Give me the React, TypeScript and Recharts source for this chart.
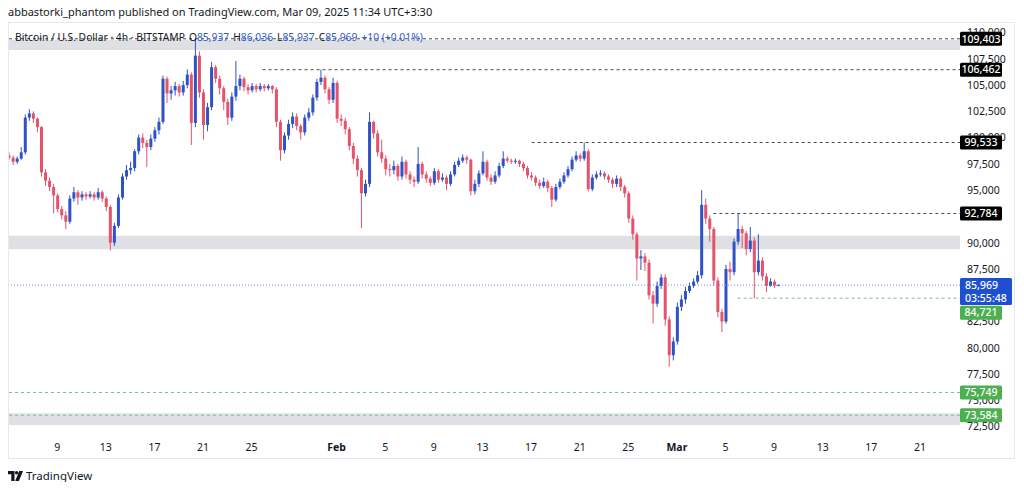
import React from "react";
import { ComposedChart, Bar, XAxis, YAxis, ReferenceLine, ReferenceArea, ReferenceDot } from "recharts";

// BTCUSD, Bitstamp — candles every 8h starting Jan 5 00:00 (days counted from Jan 1)
const START_DAY = 4;
const STEP = 1 / 3;
const FIRST_OPEN = 98300;

const closes = [
  98100, 97700, 98000, 98600, 101900, 102300, 101800, 101000, 96700, 95900,
  95300, 94500, 93200, 92600, 92000, 94200, 94800, 94300, 94600, 94400,
  94600, 94300, 94800, 94200, 93400, 90000, 91600, 94300, 96300, 96900,
  97100, 98700, 100000, 99500, 99100, 99900, 100700, 101500, 105600, 104200,
  104500, 104900, 104300, 105000, 106000, 101400, 107800, 104300, 101200, 102900,
  106700, 105600, 104700, 103400, 101900, 103900, 104900, 105600, 104800, 104500,
  104900, 104600, 104900, 104700, 104900, 104600, 101500, 98800, 100200, 101300,
  102000, 101100, 100500, 101900, 102400, 103800, 105300, 105700, 104600, 103600,
  105200, 101800, 101600, 100800, 99200, 98000, 96900, 94700, 95600, 101500,
  100400, 98600, 98000, 97000, 96900, 97300, 96300, 97700, 96500, 96000,
  95800, 97500, 96500, 96100, 95700, 96800, 96000, 96200, 95600, 96500,
  97400, 97800, 98100, 97900, 94900, 95600, 96600, 97700, 96200, 95800,
  96400, 97300, 98000, 97800, 97700, 97800, 97500, 97100, 96400, 96200,
  95700, 95400, 95800, 95200, 94100, 95300, 95800, 96400, 97000, 97900,
  98300, 98000, 98700, 95100, 96200, 96500, 96600, 96300, 96000, 95600,
  96100, 95300, 94700, 92300, 90800, 88500, 88700, 88100, 85000, 84200,
  85900, 86700, 82700, 79300, 80600, 83900, 84600, 85400, 85900, 86300,
  86900, 93600, 92300, 91300, 86400, 83400, 82500, 87500, 87200, 90100,
  91300, 90900, 89400, 90200, 87200, 88300, 86800, 85900, 86300, 85937,
  85969,
];

const highs = [
  98600, 98300, 98200, 99100, 102200, 102700, 102500, 101900, 101100, 97000,
  96200, 95600, 94700, 93500, 93000, 94500, 95300, 95000, 94900, 94800,
  94900, 94800, 95200, 95000, 94400, 93600, 91900, 94600, 96600, 97400,
  97700, 98900, 100300, 100400, 99800, 100300, 101000, 101900, 105900, 105800,
  104900, 105300, 105100, 105400, 106500, 106200, 109400, 108200, 104600, 103300,
  107200, 106900, 105900, 104900, 103700, 104300, 107300, 106000, 105800, 105100,
  105200, 105100, 105200, 105100, 105100, 105000, 104800, 101700, 100500, 101700,
  102400, 102300, 101300, 102200, 102800, 104100, 105600, 106460, 105900, 104800,
  105700, 105400, 102200, 101900, 101000, 99500, 98300, 97100, 96000, 102400,
  101600, 100700, 99800, 98300, 97500, 97800, 97500, 98200, 97900, 96800,
  96300, 99100, 97700, 96800, 96300, 97100, 97000, 96600, 96400, 96800,
  97700, 98100, 98400, 98300, 98000, 96000, 96900, 98700, 97900, 96500,
  96800, 97600, 98700, 98200, 98000, 98000, 97900, 97700, 97300, 96700,
  96400, 96000, 96200, 96000, 95400, 95600, 96100, 96700, 97300, 98200,
  98700, 98500, 99530, 98900, 96500, 96800, 96900, 96800, 96500, 96200,
  96400, 96300, 95500, 94900, 92600, 91000, 89300, 89000, 88400, 85400,
  86300, 87000, 87000, 83000, 81000, 84300, 85000, 85800, 86200, 86600,
  87300, 95000, 94200, 92600, 91500, 86700, 83700, 87900, 88200, 90400,
  92784, 91600, 91100, 91500, 90500, 90800, 88600, 87100, 86600, 86500,
  86036,
];

const lows = [
  97900, 97400, 97500, 97900, 98400, 101600, 101400, 100500, 96300, 95400,
  94900, 92800, 92900, 92200, 91300, 91800, 93900, 93600, 94000, 94100,
  94200, 94000, 94100, 93900, 93000, 89250, 89700, 91400, 94100, 96000,
  96500, 96800, 98400, 99000, 97200, 98800, 99600, 100300, 101300, 103300,
  103600, 104000, 103900, 104000, 104700, 99300, 101000, 103800, 99800, 100600,
  102600, 105200, 104100, 102600, 101200, 101600, 103500, 104500, 104400, 104100,
  104300, 104300, 104400, 104400, 104500, 104200, 101000, 97800, 98500, 99800,
  100900, 100700, 99800, 100200, 101600, 102100, 103500, 105000, 104200, 103200,
  103300, 101400, 101100, 100300, 98800, 97500, 96300, 91400, 94400, 95300,
  99900, 98200, 97600, 96400, 96300, 96500, 95900, 96000, 96100, 95600,
  95300, 95600, 96100, 95700, 95400, 95500, 95700, 95800, 95000, 95400,
  96300, 97200, 97600, 97500, 94500, 94600, 95300, 96400, 95900, 95500,
  95600, 96200, 97100, 97600, 97500, 97500, 97200, 96800, 96100, 95900,
  95400, 95100, 95200, 94800, 93400, 93900, 95100, 95600, 96200, 96800,
  97700, 97700, 97800, 94900, 94900, 96000, 96300, 96000, 95700, 95200,
  95300, 94900, 94300, 91900, 90300, 86400, 87400, 87300, 84600, 82300,
  83900, 85600, 82100, 78200, 78800, 80300, 83500, 84200, 85200, 85700,
  86100, 86600, 91800, 90100, 85900, 82900, 81500, 82300, 86400, 86900,
  89800, 89500, 88800, 89100, 84721, 86900, 86400, 85300, 85800, 85700,
  85937,
];

// time axis: day index -> label
const xTicks = [8, 12, 16, 20, 24, 31, 35, 39, 43, 47, 51, 55, 59, 63, 67, 71, 75, 79];
const xTickLabels = ["9", "13", "17", "21", "25", "Feb", "5", "9", "13", "17", "21", "25", "Mar", "5", "9", "13", "17", "21"];
// price scale labels (92,500 and 85,000 sit fully under the level tags)
const yTicks = [72500, 75000, 77500, 80000, 82500, 87500, 90000, 95000, 97500, 100000, 102500, 105000, 107500, 110000];

// drawn levels
const levelPrices = [109403, 106462, 99533, 92784, 84721, 75749, 73584];
const levelFromDay = [null, 24.9, 47.05, 62, 64, null, null];
const levelSide = ["res", "res", "res", "res", "sup", "sup", "sup"];

// grey zones
const zoneLow = [108330, 89370, 72660];
const zoneHigh = [109280, 90670, 73780];

const LAST_PRICE = 85969;
const COUNTDOWN = "03:55:48";

const X_MIN = 3.95;
const X_MAX = 82.3;
const Y_MIN = 71800;
const Y_MAX = 111000;

const UP = "#2f52c4";
const DOWN = "#e3536c";
const FONT = "'Noto Sans', 'Open Sans', sans-serif";
const TEXT = "#131722";
const VAL = "#2e5bd0";

const candles = closes.map((c, i) => {
  const o = i === 0 ? FIRST_OPEN : closes[i - 1];
  const hi = Math.max(highs[i], o, c);
  const lo = Math.min(lows[i], o, c);
  return { t: START_DAY + i * STEP, open: o, close: c, high: hi, low: lo, range: [lo, hi] };
});

const fmt = (v: number) => v.toLocaleString("en-US");

const Candle = (props: any) => {
  const { x, y, width, height, payload } = props;
  if (!payload) return null;
  const { open, close, high, low } = payload;
  const top = Math.min(y, y + height);
  const h = Math.abs(height);
  const span = high - low || 1;
  const py = (p: number) => top + ((high - p) / span) * h;
  const color = close >= open ? UP : DOWN;
  const b1 = py(Math.max(open, close));
  const b2 = py(Math.min(open, close));
  const cx = x + width / 2;
  return (
    <g>
      <line x1={cx} x2={cx} y1={top} y2={top + h} stroke={color} strokeWidth={1} />
      <rect x={x} y={b1} width={width} height={Math.max(b2 - b1, 1)} fill={color} />
    </g>
  );
};

const TimeTick = (props: any) => {
  const { x, y, payload } = props;
  const label = xTickLabels[xTicks.indexOf(payload.value)];
  const bold = label === "Feb" || label === "Mar";
  return (
    <text x={x} y={y + 17} textAnchor="middle" fontSize={10.5} fontWeight={bold ? 700 : 400} fill={TEXT} fontFamily={FONT}>
      {label}
    </text>
  );
};

const PriceLabel = ({ cx, cy, value }: any) => (
  <text x={cx + 7} y={cy + 3.8} textAnchor="start" fontSize={10.5} fill={TEXT} fontFamily={FONT}>
    {fmt(value)}
  </text>
);

const Tag = ({ cx, cy, text, bg, shift = 0 }: any) => (
  <g>
    <rect x={cx} y={cy - 7 + shift} width={42} height={14} rx={1.5} fill={bg} />
    <text x={cx + 21} y={cy + 3.8 + shift} textAnchor="middle" fontSize={10.5} fontWeight={500} fill="#fff" fontFamily={FONT}>
      {text}
    </text>
  </g>
);

const LastTag = ({ cx, cy }: any) => (
  <g>
    <rect x={cx} y={cy - 7} width={52} height={27} rx={1.5} fill="#1f4fd1" />
    <text x={cx + 5} y={cy + 3.8} fontSize={10.5} fontWeight={500} fill="#fff" fontFamily={FONT}>
      {fmt(LAST_PRICE)}
    </text>
    <text x={cx + 5} y={cy + 16.5} fontSize={10.5} fontWeight={500} fill="#fff" fontFamily={FONT}>
      {COUNTDOWN}
    </text>
  </g>
);

const Logo = () => (
  <svg width={15} height={10} viewBox="0 0 15 10" style={{ display: "block" }}>
    <path d="M0 0H6.5V10H3.3V3.2H0Z" fill={TEXT} />
    <circle cx={8.6} cy={1.7} r={1.7} fill={TEXT} />
    <path d="M11.2 0H15L10.9 10H7.2Z" fill={TEXT} />
  </svg>
);

export default function App() {
  return (
    <div style={{ position: "relative", width: 1024, height: 490, margin: -8, background: "#fff", overflow: "hidden", fontFamily: FONT, color: TEXT }}>
      <div style={{ position: "absolute", left: 8, top: 4, fontSize: 11, whiteSpace: "nowrap" }}>
        abbastorki_phantom published on TradingView.com, Mar 09, 2025 11:34 UTC+3:30
      </div>

      <div style={{ position: "absolute", left: 8, top: 22 }}>
        <ComposedChart width={1008} height={437} data={candles} margin={{ top: 0, right: 0, bottom: 0, left: 0 }}>
          {zoneLow.map((lo, i) => (
            <ReferenceArea key={"z" + i} y1={lo} y2={zoneHigh[i]} fill="#dfe0e3" fillOpacity={1} stroke="none" />
          ))}
          <XAxis
            dataKey="t"
            type="number"
            domain={[X_MIN, X_MAX]}
            allowDataOverflow
            ticks={xTicks}
            tick={<TimeTick />}
            tickLine={false}
            tickSize={0}
            tickMargin={0}
            axisLine={false}
            height={25}
            interval={0}
          />
          <YAxis
            orientation="right"
            type="number"
            domain={[Y_MIN, Y_MAX]}
            allowDataOverflow
            ticks={yTicks}
            tick={false}
            tickLine={false}
            axisLine={false}
            width={56}
          />
          <Bar dataKey="range" barSize={3} shape={<Candle />} isAnimationActive={false} />
          {levelPrices.map((p, i) => {
            const color = levelSide[i] === "res" ? "#4a4a4a" : "#7cc283";
            const from = levelFromDay[i];
            return from === null ? (
              <ReferenceLine key={"l" + i} y={p} stroke={color} strokeDasharray="3 3" strokeWidth={1} />
            ) : (
              <ReferenceLine
                key={"l" + i}
                segment={[{ x: from, y: p }, { x: X_MAX, y: p }]}
                stroke={color}
                strokeDasharray="3 3"
                strokeWidth={1}
              />
            );
          })}
          <ReferenceLine y={LAST_PRICE} stroke="#6f8fdc" strokeDasharray="1 2" strokeWidth={1} />
          {/* price scale labels, drawn under the tags */}
          {yTicks.map((v) => (
            <ReferenceDot key={"y" + v} x={X_MAX} y={v} ifOverflow="visible" shape={(s: any) => <PriceLabel cx={s.cx} cy={s.cy} value={v} />} />
          ))}
          {levelPrices.map((p, i) => (
            <ReferenceDot
              key={"t" + i}
              x={X_MAX}
              y={p}
              ifOverflow="visible"
              shape={(s: any) => (
                <Tag cx={s.cx} cy={s.cy} text={fmt(p)} bg={levelSide[i] === "res" ? "#000" : "#4caf50"} shift={p === 84721 ? 14.5 : 0} />
              )}
            />
          ))}
          <ReferenceDot x={X_MAX} y={LAST_PRICE} ifOverflow="visible" shape={(s: any) => <LastTag cx={s.cx} cy={s.cy} />} />
        </ComposedChart>
      </div>

      <div style={{ position: "absolute", left: 8, top: 22, width: 1007, height: 437, border: "1px solid #e6e8ee", boxSizing: "border-box", pointerEvents: "none" }} />

      <div style={{ position: "absolute", left: 15, top: 30, fontSize: 10.3, whiteSpace: "nowrap" }}>
        <span>Bitcoin / U.S. Dollar · 4h · BITSTAMP</span>
        <span style={{ marginLeft: 4 }}>O</span>
        <span style={{ color: VAL }}>85,937</span>
        <span style={{ marginLeft: 4 }}>H</span>
        <span style={{ color: VAL }}>86,036</span>
        <span style={{ marginLeft: 4 }}>L</span>
        <span style={{ color: VAL }}>85,937</span>
        <span style={{ marginLeft: 4 }}>C</span>
        <span style={{ color: VAL }}>85,969</span>
        <span style={{ marginLeft: 4, color: VAL }}>+10 (+0.01%)</span>
      </div>

      <div style={{ position: "absolute", left: 8, top: 468, display: "flex", alignItems: "center", gap: 3 }}>
        <Logo />
        <span style={{ fontSize: 11.5, color: TEXT }}>TradingView</span>
      </div>
    </div>
  );
}
